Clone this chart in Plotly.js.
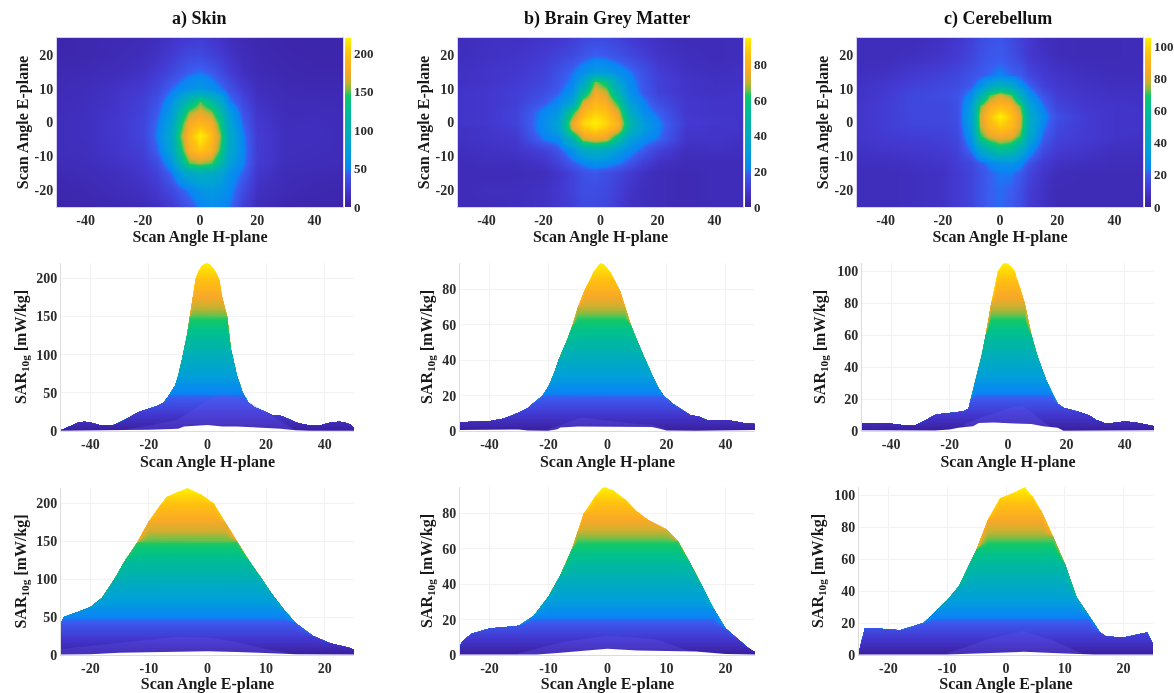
<!DOCTYPE html>
<html>
<head>
<meta charset="utf-8">
<script src="https://cdn.plot.ly/plotly-3.0.1.min.js"></script>
<style>html,body{margin:0;padding:0;background:#fff}#chart{width:1174px;height:693px;filter:blur(0.55px)}</style>
</head>
<body>
<div id="chart"></div>
<script>
// ---------- text ----------
const columnTitles = ['a) Skin', 'b) Brain Grey Matter', 'c) Cerebellum'];
const hLabel = 'Scan Angle H-plane';
const eLabel = 'Scan Angle E-plane';
const sarLabel = 'SAR<sub>10g</sub> [mW/kg]';
const hTicks = [-40, -20, 0, 20, 40];
const hTickText = ['-40', '-20', '0', '20', '40'];
const eTicks = [-20, -10, 0, 10, 20];
const eTickText = ['-20', '-10', '0', '10', '20'];
const sarMax = [220, 95, 105];
const sarTicks = [[0, 50, 100, 150, 200], [0, 20, 40, 60, 80], [0, 20, 40, 60, 80, 100]];

// ---------- colour scale ----------
const scaleStops = [0, 0.1, 0.2, 0.225, 0.33, 0.45, 0.58, 0.66, 0.69, 0.74, 0.8, 0.9, 1];
const scaleColors = ['#3a1f9e', '#4338d0', '#3a5cf0', '#0a84f5', '#00a0d8', '#00aeb8', '#00bf90', '#10c86a', '#70c048', '#d0b030', '#f8a828', '#ffc010', '#fff000'];

// ---------- heat maps (top row) ----------
const skinMapX = [-50, -40, -30, -20, -15, -10, -7, -4, 0, 4, 7, 10, 15, 20, 30, 40, 50];
const skinMapY = [-25, -20, -15, -12, -8, -4, 0, 3, 6, 10, 15, 20, 25];
const skinMapZ = [
  [6, 7, 8, 10, 14, 22, 30, 38, 50, 56, 54, 48, 26, 12, 7, 6, 6],
  [7, 9, 12, 16, 22, 32, 42, 50, 62, 66, 62, 54, 34, 16, 10, 8, 7],
  [9, 11, 14, 20, 28, 46, 68, 86, 95, 92, 80, 60, 44, 20, 11, 10, 9],
  [11, 13, 17, 23, 34, 62, 105, 150, 158, 150, 115, 75, 50, 24, 13, 12, 11],
  [13, 14, 19, 27, 44, 80, 135, 182, 200, 186, 145, 86, 52, 24, 14, 13, 12],
  [13, 15, 20, 29, 50, 86, 150, 192, 220, 196, 155, 90, 50, 24, 14, 14, 12],
  [13, 15, 20, 30, 47, 78, 135, 178, 190, 180, 140, 80, 44, 22, 13, 14, 11],
  [12, 15, 19, 28, 42, 68, 112, 155, 170, 155, 118, 70, 38, 20, 12, 12, 11],
  [12, 14, 18, 27, 38, 60, 88, 120, 150, 122, 90, 52, 32, 17, 11, 11, 10],
  [10, 13, 17, 23, 31, 46, 54, 62, 68, 58, 50, 38, 24, 14, 10, 9, 9],
  [9, 10, 12, 17, 23, 31, 38, 44, 47, 42, 34, 25, 15, 10, 8, 7, 7],
  [7, 8, 10, 13, 17, 23, 28, 32, 33, 28, 24, 18, 12, 9, 7, 6, 6],
  [6, 8, 9, 11, 14, 18, 21, 23, 24, 20, 17, 14, 10, 8, 6, 6, 6]
];
const greyMapX = [-50, -40, -30, -20, -15, -10, -6, -2, 2, 6, 10, 15, 20, 30, 40, 50];
const greyMapY = [-25, -20, -15, -12, -8, -5, -2, 0, 3, 6, 9, 12, 15, 20, 25];
const greyMapZ = [
  [5, 5, 6, 7, 9, 11, 14, 14, 13, 10, 7, 6, 5, 4, 5, 5],
  [5, 6, 6, 7, 9, 12, 15, 15, 14, 11, 8, 6, 5, 4, 5, 5],
  [5, 5, 5, 6, 8, 12, 16, 17, 15, 13, 10, 7, 5, 4, 5, 5],
  [5, 6, 6, 8, 12, 18, 22, 25, 24, 21, 17, 11, 7, 5, 5, 5],
  [6, 7, 8, 12, 17, 26, 38, 42, 38, 30, 24, 18, 12, 6, 7, 6],
  [7, 8, 9, 21, 24, 45, 70, 75, 72, 52, 32, 24, 20, 8, 8, 7],
  [7, 8, 11, 24, 32, 70, 85, 90, 85, 75, 46, 30, 22, 9, 8, 8],
  [8, 9, 12, 24, 34, 74, 90, 95, 90, 80, 50, 30, 22, 10, 9, 8],
  [8, 9, 12, 23, 28, 60, 82, 88, 85, 72, 42, 24, 19, 9, 8, 8],
  [8, 9, 11, 18, 23, 34, 72, 82, 78, 60, 32, 22, 15, 9, 8, 8],
  [8, 9, 11, 15, 19, 26, 50, 76, 70, 44, 26, 18, 12, 8, 7, 8],
  [7, 8, 10, 13, 17, 22, 34, 67, 58, 34, 24, 17, 12, 8, 7, 7],
  [7, 8, 9, 12, 16, 20, 25, 30, 29, 25, 21, 16, 11, 7, 6, 7],
  [6, 7, 8, 10, 12, 14, 17, 19, 18, 16, 14, 11, 8, 6, 5, 6],
  [5, 7, 7, 8, 9, 11, 13, 14, 14, 12, 10, 8, 7, 5, 5, 6]
];
const cereMapX = [-50, -40, -30, -20, -15, -10, -7, -4, 0, 4, 7, 10, 15, 20, 30, 40, 50];
const cereMapY = [-25, -20, -15, -12, -8, -4, -1, 2, 5, 8, 11, 14, 20, 25];
const cereMapZ = [
  [6, 6, 7, 8, 11, 14, 18, 21, 22, 20, 17, 11, 8, 5, 5, 5, 5],
  [6, 6, 7, 8, 11, 14, 18, 21, 22, 21, 17, 12, 8, 5, 5, 5, 5],
  [6, 6, 7, 8, 11, 14, 18, 21, 23, 23, 20, 14, 9, 6, 5, 5, 5],
  [7, 7, 8, 9, 12, 15, 20, 24, 28, 29, 26, 18, 11, 8, 7, 6, 6],
  [8, 9, 10, 11, 13, 23, 38, 50, 60, 56, 42, 28, 16, 11, 9, 7, 7],
  [9, 11, 12, 13, 15, 30, 68, 80, 85, 82, 70, 40, 21, 14, 11, 9, 8],
  [9, 12, 14, 14, 16, 34, 76, 90, 97, 92, 78, 44, 24, 15, 11, 9, 9],
  [9, 12, 15, 15, 17, 36, 78, 94, 105, 95, 80, 44, 26, 17, 11, 9, 9],
  [9, 12, 15, 15, 17, 34, 72, 86, 92, 88, 72, 38, 23, 14, 10, 9, 8],
  [8, 11, 15, 16, 18, 26, 46, 70, 80, 72, 46, 28, 18, 12, 9, 8, 8],
  [8, 10, 13, 15, 16, 20, 27, 38, 46, 40, 28, 21, 13, 10, 8, 7, 7],
  [7, 8, 11, 13, 15, 18, 20, 22, 24, 22, 20, 15, 11, 9, 7, 6, 6],
  [6, 6, 7, 9, 11, 14, 17, 19, 20, 17, 14, 10, 8, 6, 5, 5, 6],
  [6, 6, 6, 8, 10, 13, 16, 18, 19, 16, 13, 10, 7, 6, 5, 5, 6]
];

// ---------- side views (H-plane) : silhouette top, bottom edge, inner ridge ----------
const skinHX = [-50, -47, -44, -42, -40, -37, -35, -32, -30, -27, -24, -22, -20, -17, -15, -13, -11, -10, -9, -8, -7, -6, -5, -4, -3, -2, -1, 0, 1, 2, 3, 4, 5, 6, 6.7, 8, 9, 10, 11, 12, 14, 16, 18, 20, 22, 25, 27, 29, 31, 34, 37, 39, 42, 45, 47, 49, 50];
const skinHTop = [1, 6, 11, 12, 11, 8, 7, 8, 11, 17, 24, 27, 29, 33, 37, 47, 60, 72, 88, 105, 125, 150, 175, 200, 210, 216, 219, 220, 218, 213, 207, 198, 175, 160, 150, 107, 90, 73, 62, 50, 37, 31, 28, 24, 21, 20, 17, 13, 10, 8, 7, 8, 11, 12, 11, 8, 3];
const skinHLowX = [-50, -30, -20, -10, -8, 0, 5, 10, 15, 25, 30, 35, 50];
const skinHLow = [0.3, 0.5, 1.5, 3, 6, 8, 6, 6, 5, 3, 1, 0.3, 0.3];
const skinHRidgeX = [-30, -20, -10, -5, 0, 5, 10, 15, 20, 25, 30];
const skinHRidge = [1, 7, 15, 28, 41, 48, 44, 36, 24, 12, 1];

const greyHX = [-50, -45, -40, -35, -32, -30, -27, -25, -22, -20, -18, -16.6, -14, -12, -10, -7.6, -6, -4.7, -3, -2.2, -1, 0.9, 2.5, 4.3, 6, 7.9, 10, 12.8, 15, 17, 19, 22, 25, 28, 31, 34, 37, 40, 43, 46, 50];
const greyHTop = [5, 5.2, 5.5, 7, 9, 10.5, 13, 16, 20, 25, 33, 40, 50, 59, 70, 80, 85, 90, 94, 95, 94, 90, 85, 79, 70, 60, 51, 40, 32, 25, 20, 15.5, 12, 9, 8, 6, 6, 6.2, 5.5, 4.5, 4];
const greyHLowX = [-50, -32, -30, -27, -20, -17, -16, -10, 0, 15, 17, 20, 30, 50];
const greyHLow = [0.5, 0.8, 0.9, 0.3, 0.2, 1, 2, 2.5, 2.5, 2.3, 1.6, 0.3, 0.2, 0.6];
const greyHRidgeX = [-20, -15, -10, -8, -5, 0, 5, 10, 15, 20];
const greyHRidge = [1, 4, 7, 7.5, 7, 6, 5, 4, 3.5, 1];

const cereHX = [-50, -45, -42, -38, -35, -32, -30, -27, -25, -22, -18, -15, -13.5, -12.7, -11, -10, -9, -7.6, -5.7, -3.4, -2, -1, 0, 1, 2.3, 3, 4, 5.7, 8, 10, 11.4, 13, 15, 17, 19, 22, 25, 28, 30, 33, 36, 40, 43, 46, 50];
const cereHTop = [4.5, 5, 5, 4, 3.5, 3.5, 5, 8, 10, 11, 11.5, 12.5, 14, 20, 32, 40, 47, 60, 80, 100, 104, 105, 104.5, 103, 100, 95, 90, 80, 60, 47, 40, 32, 24, 17, 14.5, 13, 11.5, 9.5, 7, 5, 5, 6, 5.5, 4.5, 3];
const cereHLowX = [-50, -25, -20, -17, -12, -10, -5, 0, 8, 12, 17, 19, 30, 50];
const cereHLow = [0.5, 0.3, 1, 2, 3, 5, 5.3, 5, 4.3, 3, 2, 0.2, 0.3, 0.5];
const cereHRidgeX = [-15, -10, -5, 0, 5, 8, 12, 15];
const cereHRidge = [4, 8, 11, 14, 16, 12, 6, 2];

// ---------- side views (E-plane) ----------
const skinEX = [-25, -24.5, -22, -20, -18, -16, -14, -12, -10, -8, -7, -5, -3.4, -1, 1, 3, 5, 7, 9, 11, 13, 15, 18, 21, 24, 25];
const skinETop = [42, 50, 57, 63, 75, 98, 125, 148, 176, 198, 208, 215, 220, 211, 200, 175, 150, 125, 103, 80, 60, 42, 25, 15, 10, 7];
const skinELowX = [-25, -20, -15, -5, 0, 5, 10, 15, 25];
const skinELow = [0.5, 1, 3, 4, 5, 4, 2.5, 1, 0.5];
const skinERidgeX = [-25, -15, -5, 0, 5, 10, 15];
const skinERidge = [8, 16, 24, 23, 17, 8, 1];

const greyEX = [-25, -24.5, -23, -20, -15, -12.5, -10, -8, -6, -5, -4, -2, -1, -0.5, 1, 3, 5, 7, 10, 12, 14, 16, 18, 20, 22, 24, 25];
const greyETop = [5, 8, 12, 15, 16.5, 22, 33, 45, 60, 70, 80, 90, 94, 95, 93, 88, 81, 76, 71, 64, 52, 39, 26, 15, 9, 3.5, 1.5];
const greyELowX = [-25, -12, -9, 0, 5, 15, 20, 25];
const greyELow = [0.3, 0.3, 1, 3.5, 2.5, 2, 0.5, 0.3];
const greyERidgeX = [-15, -8, 0, 8, 15];
const greyERidge = [1, 7, 11, 9, 1];

const cereEX = [-25, -24.5, -24, -22, -18, -14, -12, -10, -8, -6, -5, -3, -1, 1, 3.2, 4.5, 6, 8, 10, 12, 14, 16, 17, 20, 22, 24, 25];
const cereETop = [2, 10, 16.5, 16.5, 15.5, 20, 27, 34, 43, 58, 66, 85, 98, 101, 105, 99, 90, 74, 57, 36, 25, 14, 11.5, 11, 12.5, 14, 7];
const cereELowX = [-25, -10, -5, 3, 10, 15, 25];
const cereELow = [0.3, 0.3, 1, 2, 1, 0.3, 0.3];
const cereERidgeX = [-10, -3, 3, 8, 13];
const cereERidge = [1, 10, 15, 9, 1];

// ---------- helpers ----------
const W = 1174, H = 693;
const serif = '"Liberation Serif", "Times New Roman", serif';
const tickFont = {family: serif, size: 14, color: '#2b2b2b', weight: 'bold'};
const barFont = {family: serif, size: 13, color: '#2b2b2b', weight: 'bold'};
const titleFont = {family: serif, size: 16, color: '#1a1a1a', weight: 'bold'};
const colorscale = scaleStops.map((s, i) => [s, scaleColors[i]]);

function hexToRgb(h) { return [1, 3, 5].map(i => parseInt(h.substr(i, 2), 16)); }
function colorAt(t) {
  let i = 0;
  while (i < scaleStops.length - 2 && t > scaleStops[i + 1]) i++;
  const f = (t - scaleStops[i]) / (scaleStops[i + 1] - scaleStops[i]);
  const a = hexToRgb(scaleColors[i]), b = hexToRgb(scaleColors[i + 1]);
  return 'rgb(' + a.map((v, k) => Math.round(v + (b[k] - v) * f)).join(',') + ')';
}

const data = [];
const layout = {
  width: W, height: H, margin: {l: 0, r: 0, t: 0, b: 0},
  paper_bgcolor: '#fff', plot_bgcolor: '#fff', showlegend: false,
  annotations: []
};
let axisNo = 0;
function addAxes(box, xTicks, xText, xTitle, xRange, yTicks, yText, yTitle, yRange, xStand, yStand, isMap) {
  axisNo++;
  const sx = axisNo === 1 ? '' : axisNo;
  const lineColor = isMap ? '#d6d0f2' : '#dcdcdc';
  layout['xaxis' + sx] = {
    domain: [box[0] / W, box[1] / W], range: xRange, anchor: 'y' + sx, fixedrange: true,
    tickmode: 'array', tickvals: xTicks, ticktext: xText, tickfont: tickFont,
    ticks: '', zeroline: false,
    showgrid: !isMap, gridcolor: '#f2f2f2', showline: true, linecolor: lineColor, mirror: isMap,
    title: {text: xTitle, font: titleFont, standoff: xStand}
  };
  layout['yaxis' + sx] = {
    domain: [1 - box[3] / H, 1 - box[2] / H], range: yRange, anchor: 'x' + sx, fixedrange: true,
    tickmode: 'array', tickvals: yTicks, ticktext: yText, tickfont: tickFont,
    ticks: '', zeroline: false,
    showgrid: !isMap, gridcolor: '#f2f2f2', showline: true, linecolor: lineColor, mirror: isMap,
    title: {text: yTitle, font: titleFont, standoff: yStand}
  };
  return {x: 'x' + sx, y: 'y' + sx};
}

function addMap(box, x, y, z, zMax, cbTicks, cbX, yStand) {
  const ax = addAxes(box, hTicks, hTickText, hLabel, [-50, 50], eTicks, eTickText, eLabel, [-25, 25], 4, yStand, true);
  data.push({
    type: 'heatmap', x: x, y: y, z: z, xaxis: ax.x, yaxis: ax.y, zsmooth: 'best',
    zmin: 0, zmax: zMax, colorscale: colorscale, hoverinfo: 'skip',
    colorbar: {
      x: cbX / W, xanchor: 'left', xpad: 0, ypad: 0,
      y: 1 - box[3] / H, yanchor: 'bottom', lenmode: 'pixels', len: box[3] - box[2],
      thicknessmode: 'pixels', thickness: 6, outlinewidth: 0,
      tickmode: 'array', tickvals: cbTicks, ticktext: cbTicks.map(String), tickfont: barFont, ticks: ''
    }
  });
}

function addSide(box, xTicks, xText, xTitle, xRange, x, top, lowX, low, ridgeX, ridge, zMax, yTicks, xStand, yStand) {
  const ax = addAxes(box, xTicks, xText, xTitle, xRange, yTicks, yTicks.map(String), sarLabel, [0, zMax], xStand, yStand, false);
  const nLevels = 70;
  for (let k = nLevels; k >= 1; k--) {
    const lvl = zMax * k / nLevels;
    data.push({
      type: 'scatter', mode: 'lines', x: x, y: top.map(v => Math.min(v, lvl)),
      xaxis: ax.x, yaxis: ax.y, line: {width: 0}, fill: 'tozeroy',
      fillcolor: colorAt((k - 0.5) / nLevels), hoverinfo: 'skip'
    });
  }
  data.push({type: 'scatter', mode: 'lines', x: ridgeX, y: ridge, xaxis: ax.x, yaxis: ax.y,
    line: {width: 0}, fill: 'tozeroy', fillcolor: 'rgba(95,85,235,0.3)', hoverinfo: 'skip'});
  data.push({type: 'scatter', mode: 'lines', x: lowX, y: low, xaxis: ax.x, yaxis: ax.y,
    line: {width: 0}, fill: 'tozeroy', fillcolor: '#ffffff', hoverinfo: 'skip'});
}

// top row
addMap([57, 343, 38, 207], skinMapX, skinMapY, skinMapZ, sarMax[0], sarTicks[0], 345, 1);
addMap([458, 743, 38, 207], greyMapX, greyMapY, greyMapZ, sarMax[1], sarTicks[1], 745, 1);
addMap([857, 1143, 38, 207], cereMapX, cereMapY, cereMapZ, sarMax[2], sarTicks[2], 1145, 1);
// middle row
addSide([61, 354, 263, 431], hTicks, hTickText, hLabel, [-50, 50], skinHX, skinHTop, skinHLowX, skinHLow, skinHRidgeX, skinHRidge, sarMax[0], sarTicks[0], 5, 5);
addSide([460, 755, 263, 431], hTicks, hTickText, hLabel, [-50, 50], greyHX, greyHTop, greyHLowX, greyHLow, greyHRidgeX, greyHRidge, sarMax[1], sarTicks[1], 5, 5);
addSide([862, 1154, 263, 431], hTicks, hTickText, hLabel, [-50, 50], cereHX, cereHTop, cereHLowX, cereHLow, cereHRidgeX, cereHRidge, sarMax[2], sarTicks[2], 5, 7);
// bottom row
addSide([61, 354, 488, 655], eTicks, eTickText, eLabel, [-25, 25], skinEX, skinETop, skinELowX, skinELow, skinERidgeX, skinERidge, sarMax[0], sarTicks[0], 7, 5);
addSide([460, 755, 487, 655], eTicks, eTickText, eLabel, [-25, 25], greyEX, greyETop, greyELowX, greyELow, greyERidgeX, greyERidge, sarMax[1], sarTicks[1], 7, 5);
addSide([859, 1153, 487, 655], eTicks, eTickText, eLabel, [-25, 25], cereEX, cereETop, cereELowX, cereELow, cereERidgeX, cereERidge, sarMax[2], sarTicks[2], 7, 6);

// column titles
[199, 607, 998].forEach((px, i) => layout.annotations.push({
  xref: 'paper', yref: 'paper', x: px / W, y: 1 - 18 / H, xanchor: 'center', yanchor: 'middle',
  text: columnTitles[i], showarrow: false, font: {family: serif, size: 18, color: '#111', weight: 'bold'}
}));

Plotly.newPlot('chart', data, layout, {staticPlot: true, displayModeBar: false});
</script>
</body>
</html>
